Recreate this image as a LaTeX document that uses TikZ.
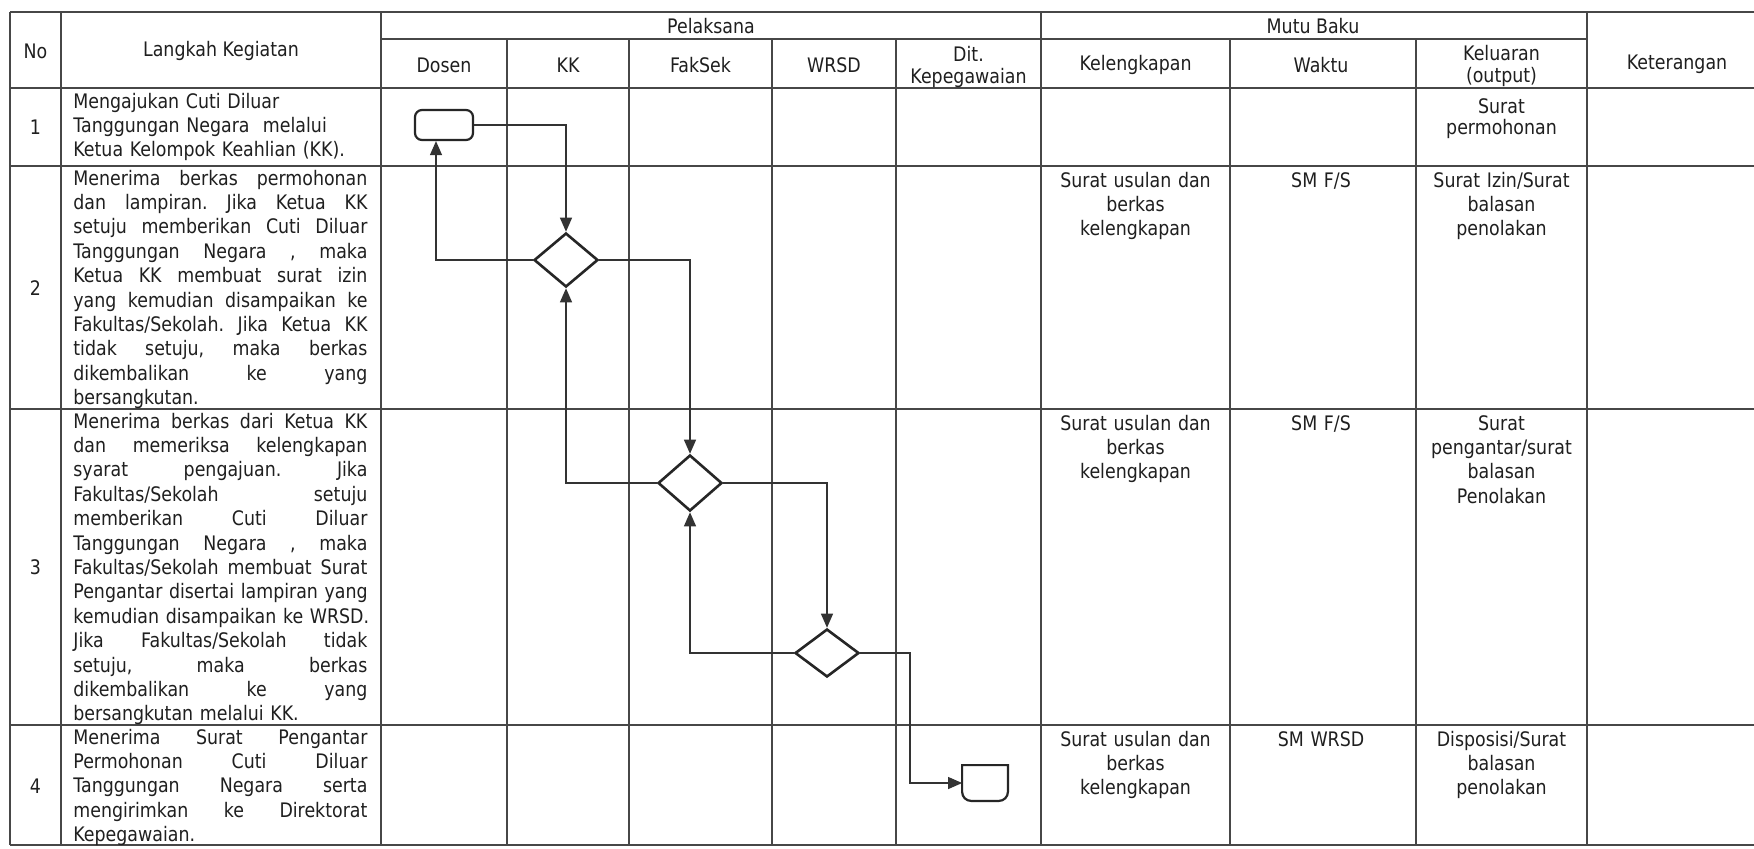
\documentclass[tikz,border=0pt]{standalone}
\usepackage{fontspec}
\setmainfont{DejaVu Sans}[FakeStretch=0.87]
\usetikzlibrary{shapes.geometric,arrows.meta}
\newcommand\gp{\hskip 0pt plus 1fil\relax}
\newcommand\jline[1]{\leavevmode\hbox to 147pt{#1}\\}
\begin{document}
\begin{tikzpicture}[x=0.5pt,y=-0.5pt,
  grid/.style={draw=black!72, line width=0.6pt},
  txt/.style={inner sep=0pt, font=\fontsize{10}{12.2}\selectfont\frenchspacing, text=black!88},
  langkah/.style={txt, anchor=base west, text width=147pt},
  mutu/.style={txt, anchor=base, align=center, text width=84pt},
  hdr/.style={txt, align=center, font=\fontsize{10}{10.8}\selectfont},
  startbox/.style={draw=black!85, line width=1.1pt, rounded corners=3.5pt, fill=white, inner sep=0pt, minimum width=29pt, minimum height=15pt},
  decision/.style={diamond, draw=black!85, line width=1.3pt, fill=white, inner sep=0pt, minimum width=32pt, minimum height=27pt},
  flow/.style={draw=black!80, line width=0.6pt, -{Triangle[length=7pt,width=6pt]}},
]
\fill[white] (0,0) rectangle (1754,848);
\useasboundingbox (0,0) rectangle (1754,848);

% ---------- table grid ----------
\draw[grid] (10,12) -- (1754,12);
\draw[grid] (381,39) -- (1587,39);
\draw[grid] (10,88) -- (1754,88);
\foreach \yy in {166,409,725,845} \draw[grid] (10,\yy) -- (1754,\yy);
\foreach \xx in {10,61,381,1041,1587} \draw[grid] (\xx,12) -- (\xx,845);
\foreach \xx in {507,629,772,896,1230,1416} \draw[grid] (\xx,39) -- (\xx,845);

% ---------- header ----------
\node[hdr] (hno) at (35.5,51) {No};
\node[hdr] (hlk) at (221,51) {Langkah Kegiatan};
\node[hdr] (hpl) at (711,26) {Pelaksana};
\node[hdr] (hmb) at (1313,26) {Mutu Baku};
\node[hdr] (hds) at (444,65) {Dosen};
\node[hdr] (hkk) at (568,65) {KK};
\node[hdr] (hfs) at (700.5,65) {FakSek};
\node[hdr] (hwr) at (834,65) {WRSD};
\node[hdr] (hdk) at (968.5,67) {Dit.\\Kepegawaian};
\node[hdr] (hkl) at (1135.5,65) {Kelengkapan};
\node[hdr] (hwk) at (1321,65) {Waktu};
\node[hdr] (hkr) at (1501.5,66) {Keluaran\\(output)};
\node[hdr] (hkt) at (1677,64) {Keterangan};

% ---------- numbers ----------
\node[txt] (n1) at (35.5,127) {1};
\node[txt] (n2) at (35.5,288) {2};
\node[txt] (n3) at (35.5,567) {3};
\node[txt] (n4) at (35.5,786) {4};

% ---------- langkah kegiatan ----------
\node[langkah] (l1) at (73,108) {Mengajukan Cuti Diluar\\Tanggungan Negara\ \ melalui\\Ketua Kelompok Keahlian (KK).};
\node[langkah] (l2) at (73,185) {%
\jline{Menerima \gp berkas \gp permohonan}%
\jline{dan \gp lampiran. \gp Jika \gp Ketua \gp KK}%
\jline{setuju \gp memberikan \gp Cuti \gp Diluar}%
\jline{Tanggungan \gp Negara \gp , \gp maka}%
\jline{Ketua \gp KK \gp membuat \gp surat \gp izin}%
\jline{yang \gp kemudian \gp disampaikan \gp ke}%
\jline{Fakultas/Sekolah. \gp Jika \gp Ketua \gp KK}%
\jline{tidak \gp setuju, \gp maka \gp berkas}%
\jline{dikembalikan \gp ke \gp yang}%
bersangkutan.};
\node[langkah] (l3) at (73,428) {%
\jline{Menerima \gp berkas \gp dari \gp Ketua \gp KK}%
\jline{dan \gp memeriksa \gp kelengkapan}%
\jline{syarat \gp pengajuan. \gp Jika}%
\jline{Fakultas/Sekolah \gp setuju}%
\jline{memberikan \gp Cuti \gp Diluar}%
\jline{Tanggungan \gp Negara \gp , \gp maka}%
\jline{Fakultas/Sekolah \gp membuat \gp Surat}%
\jline{Pengantar \gp disertai \gp lampiran \gp yang}%
\jline{kemudian \gp disampaikan \gp ke \gp WRSD.}%
\jline{Jika \gp Fakultas/Sekolah \gp tidak}%
\jline{setuju, \gp maka \gp berkas}%
\jline{dikembalikan \gp ke \gp yang}%
bersangkutan melalui KK.};
\node[langkah] (l4) at (73,744) {%
\jline{Menerima \gp Surat \gp Pengantar}%
\jline{Permohonan \gp Cuti \gp Diluar}%
\jline{Tanggungan \gp Negara \gp serta}%
\jline{mengirimkan \gp ke \gp Direktorat}%
Kepegawaian.};

% ---------- mutu baku ----------
\node[mutu, font=\fontsize{10}{10.6}\selectfont] (o1) at (1501.5,113) {Surat\\permohonan};
\node[mutu] (k2) at (1135.5,187) {Surat usulan dan\\berkas\\kelengkapan};
\node[mutu] (w2) at (1321,187) {SM F/S};
\node[mutu] (o2) at (1501.5,187) {Surat Izin/Surat\\balasan\\penolakan};
\node[mutu] (k3) at (1135.5,430) {Surat usulan dan\\berkas\\kelengkapan};
\node[mutu] (w3) at (1321,430) {SM F/S};
\node[mutu] (o3) at (1501.5,430) {Surat\\pengantar/surat\\balasan\\Penolakan};
\node[mutu] (k4) at (1135.5,746) {Surat usulan dan\\berkas\\kelengkapan};
\node[mutu] (w4) at (1321,746) {SM WRSD};
\node[mutu] (o4) at (1501.5,746) {Disposisi/Surat\\balasan\\penolakan};

% ---------- flowchart ----------
\node[startbox] (b1) at (444,125) {};
\node[decision] (d1) at (566,260) {};
\node[decision, minimum height=28pt] (d2) at (690,483) {};
\node[decision, minimum height=24pt] (d3) at (827,653) {};
\node[inner sep=0pt, minimum width=22.5pt, minimum height=17.5pt] (b2) at (985,783) {};
\draw[draw=black!85, line width=1.1pt, fill=white]
  (b2.north west) -- (b2.north east) -- ([yshift=4.5pt]b2.south east)
  arc[start angle=0, end angle=-90, radius=4.5pt] -- ([xshift=4.5pt]b2.south west)
  arc[start angle=270, end angle=180, radius=4.5pt] -- cycle;
\coordinate (j3) at (910,653);

\draw[flow] (b1.east) -| (d1.north);
\draw[flow] (d1.west) -| ([xshift=-4pt]b1.south);
\draw[flow] (d1.east) -| (d2.north);
\draw[flow] (d2.west) -| (d1.south);
\draw[flow] (d2.east) -| (d3.north);
\draw[flow] (d3.west) -| (d2.south);
\draw[flow] (d3.east) -- (j3) |- (b2.west);
\end{tikzpicture}
\end{document}
